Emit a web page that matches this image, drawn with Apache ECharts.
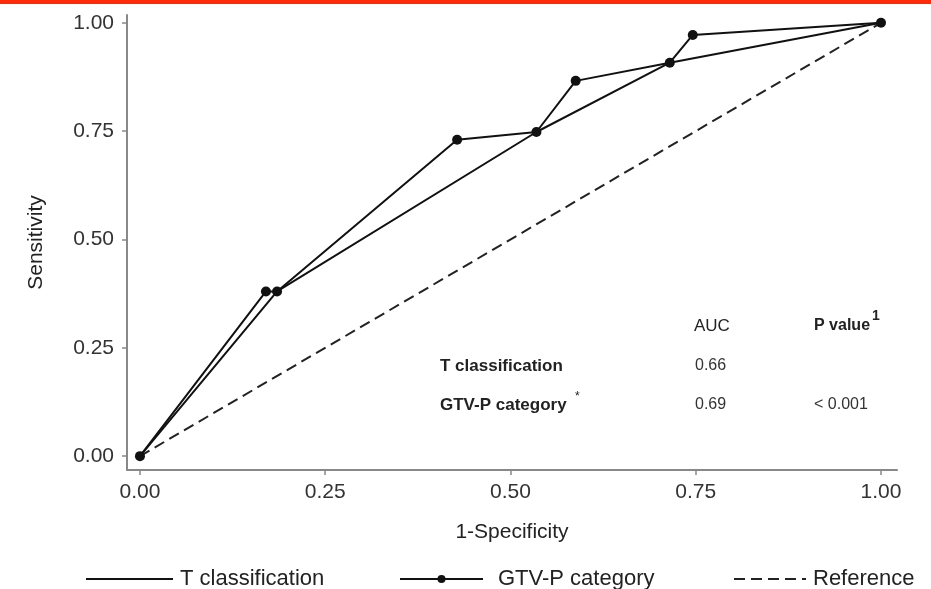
<!DOCTYPE html>
<html>
<head>
<meta charset="utf-8">
<script src="https://cdn.jsdelivr.net/npm/echarts@6/dist/echarts.min.js"></script>
<style>html,body{margin:0;padding:0;background:#fff}#c{width:931px;height:589px}</style>
</head>
<body>
<div id="c"></div>
<script>
// ---- data ----
var tFpr  = [0, 0.185, 0.535, 0.715, 1];
var tSens = [0, 0.380, 0.748, 0.908, 1];
var gFpr  = [0, 0.170, 0.185, 0.428, 0.535, 0.588, 0.715, 0.746, 1];
var gSens = [0, 0.380, 0.380, 0.730, 0.748, 0.866, 0.908, 0.972, 1];
var refFpr  = [0, 1];
var refSens = [0, 1];
var tickValues = [0, 0.25, 0.5, 0.75, 1];
var seriesNames = ['T classification', 'GTV-P category', 'Reference'];
var aucRows = ['T classification', 'GTV-P category'];
var aucValues = ['0.66', '0.69'];
var pValues = ['', '< 0.001'];

function pairs(xs, ys){ return xs.map(function(x,i){ return [x, ys[i]]; }); }

var FONT = '"Liberation Sans", Arial, sans-serif';
var ink = '#111';

var chart = echarts.init(document.getElementById('c'), null, {renderer:'canvas'});
var axisCommon = function(name, gap, isY){
  return {
    type: 'value',
    name: name,
    nameLocation: 'middle',
    nameGap: gap,
    nameTextStyle: {fontFamily: FONT, fontSize: 21, color: '#222'},
    min: isY ? -0.032 : -0.0175,
    max: isY ? 1.018 : 1.0216,
    splitLine: {show: false},
    axisLine: {show: true, onZero: false, lineStyle: {color: '#888', width: 2}},
    axisTick: {show: true, length: 5, lineStyle: {color: '#888', width: 1.5}, customValues: tickValues},
    axisLabel: {show: true, margin: isY ? 13 : 12, fontFamily: FONT, fontSize: 21, color: '#333',
      customValues: tickValues, formatter: function(v){ return v.toFixed(2); }}
  };
};

var legendText = {fontFamily: FONT, fontSize: 22, color: '#222'};
var option = {
  backgroundColor: '#fff',
  animation: false,
  grid: {left: 127, right: 34, top: 15, bottom: 119, containLabel: false},
  xAxis: axisCommon('1-Specificity', 52, false),
  yAxis: axisCommon('Sensitivity', 80, true),
  legend: [
    {data: [seriesNames[0]], left: 80, top: 563, itemWidth: 87, itemHeight: 10,
     itemStyle: {opacity: 0},
     textStyle: Object.assign({padding: [0,0,0,2]}, legendText)},
    {data: [seriesNames[1]], left: 394, top: 563, itemWidth: 83, itemHeight: 10,
     textStyle: Object.assign({padding: [0,0,0,10]}, legendText)},
    {data: [seriesNames[2]], left: 728, top: 563, itemWidth: 72, itemHeight: 10,
     itemStyle: {opacity: 0},
     textStyle: Object.assign({padding: [0,0,0,2]}, legendText)}
  ],
  series: [
    {name: seriesNames[0], type: 'line', data: pairs(tFpr, tSens), symbol: 'none',
     lineStyle: {color: ink, width: 2}, itemStyle: {color: ink}, z: 3},
    {name: seriesNames[1], type: 'line', data: pairs(gFpr, gSens), symbol: 'circle', symbolSize: 10,
     showAllSymbol: true,
     lineStyle: {color: ink, width: 2}, itemStyle: {color: ink}, z: 4},
    {name: seriesNames[2], type: 'line', data: pairs(refFpr, refSens), symbol: 'none',
     lineStyle: {color: '#222', width: 2, type: [11, 6]}, itemStyle: {color: '#222'}, z: 2}
  ],
  graphic: [
    {type: 'rect', left: 0, top: 0, shape: {width: 931, height: 4}, style: {fill: '#ff2a0a'}},
    {type: 'text', left: 694, top: 318, style: {text: 'AUC', font: '17px ' + FONT, fill: '#222'}},
    {type: 'text', left: 814, top: 318, style: {text: 'P value', font: 'bold 16px ' + FONT, fill: '#222'}},
    {type: 'text', left: 872, top: 309, style: {text: '1', font: 'bold 14px ' + FONT, fill: '#222'}},
    {type: 'text', left: 440, top: 358, style: {text: aucRows[0], font: 'bold 17px ' + FONT, fill: '#222'}},
    {type: 'text', left: 440, top: 397, style: {text: aucRows[1], font: 'bold 17px ' + FONT, fill: '#222'}},
    {type: 'text', left: 575, top: 391, style: {text: '*', font: '12px ' + FONT, fill: '#222'}},
    {type: 'text', left: 695, top: 358, style: {text: aucValues[0], font: '16px ' + FONT, fill: '#333'}},
    {type: 'text', left: 695, top: 397, style: {text: aucValues[1], font: '16px ' + FONT, fill: '#333'}},
    {type: 'text', left: 814, top: 397, style: {text: pValues[1], font: '16px ' + FONT, fill: '#333'}}
  ]
};
chart.setOption(option);
</script>
</body>
</html>
